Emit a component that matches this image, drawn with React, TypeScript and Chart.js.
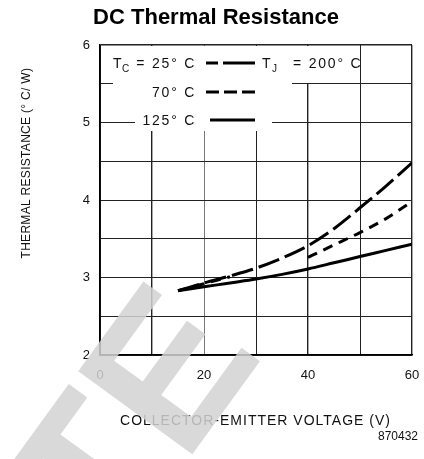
import React, { useEffect, useRef } from "react";
import { Chart, registerables } from "chart.js";

Chart.register(...registerables);

// ---- data ----
const voltage = [15, 20, 25, 30, 35, 40, 45, 50, 55, 60];
const r25 = [2.83, 2.93, 3.02, 3.12, 3.25, 3.41, 3.63, 3.9, 4.18, 4.48];
const r70 = [2.83, 2.92, 3.01, null, null, 3.26, 3.42, 3.58, 3.76, 3.98];
const r125 = [2.83, 2.88, 2.93, 2.98, 3.04, 3.11, 3.19, 3.27, 3.35, 3.43];
const seriesLabels = ["25° C", "70° C", "125° C"];
const xTickLabels = ["0", "20", "40", "60"];
const yTickLabels = ["2", "3", "4", "5", "6"];
const titleText = "DC Thermal Resistance";
const xTitle = "COLLECTOR-EMITTER VOLTAGE (V)";
const yTitle = "THERMAL RESISTANCE (° C/ W)";
const figNumber = "870432";
const watermark = "OBSOLETE";

const FONT = '"Liberation Sans", Arial, sans-serif';

function txt(ctx: CanvasRenderingContext2D, s: string, x: number, y: number, font: string, align: CanvasTextAlign = "left", spacing = 0, color = "#111") {
  ctx.save();
  ctx.font = font;
  (ctx as any).letterSpacing = spacing + "px";
  ctx.fillStyle = color;
  ctx.textAlign = align;
  ctx.textBaseline = "alphabetic";
  const dx = align === "right" ? -spacing : align === "center" ? -spacing / 2 : 0;
  ctx.fillText(s, x + dx, y);
  ctx.restore();
}

const decoPlugin = {
  id: "deco",
  beforeDatasetsDraw(chart: any) {
    const ctx = chart.ctx as CanvasRenderingContext2D;
    const { left, top } = chart.chartArea;
    ctx.save();
    ctx.fillStyle = "#fff";
    // masks behind the in-plot legend
    ctx.fillRect(left + 13, top + 1, 179, 42);
    ctx.fillRect(left + 192, top + 1, 60, 37);
    ctx.fillRect(left + 35, top + 43, 137, 43);
    ctx.restore();
  },
  afterDatasetsDraw(chart: any) {
    const ctx = chart.ctx as CanvasRenderingContext2D;
    const f14 = `14px ${FONT}`;
    const f10 = `10px ${FONT}`;
    // row 1
    txt(ctx, "T", 113, 68, f14);
    txt(ctx, "C", 122, 72, f10);
    txt(ctx, "= " + seriesLabels[0], 198, 68, f14, "right", 1.8);
    txt(ctx, "T", 262, 68, f14);
    txt(ctx, "J", 272, 72, f10);
    txt(ctx, "= 200° C", 293, 68, f14, "left", 1.8);
    txt(ctx, seriesLabels[1], 198, 97, f14, "right", 1.8);
    txt(ctx, seriesLabels[2], 198, 125, f14, "right", 1.8);
    ctx.save();
    ctx.strokeStyle = "#000";
    ctx.lineWidth = 3;
    ctx.setLineDash([12, 5, 40]);
    ctx.beginPath(); ctx.moveTo(206, 63); ctx.lineTo(255, 63); ctx.stroke();
    ctx.setLineDash([13, 5]);
    ctx.beginPath(); ctx.moveTo(206, 92); ctx.lineTo(255, 92); ctx.stroke();
    ctx.setLineDash([]);
    ctx.beginPath(); ctx.moveTo(210, 120); ctx.lineTo(255, 120); ctx.stroke();
    ctx.restore();
  },
  afterDraw(chart: any) {
    const ctx = chart.ctx as CanvasRenderingContext2D;
    txt(ctx, titleText, 216, 24, `bold 22px ${FONT}`, "center", 0, "#000");
    txt(ctx, xTitle, 256, 425, `14px ${FONT}`, "center", 1);
    txt(ctx, figNumber, 418, 440, `12px ${FONT}`, "right", 0);
    ctx.save();
    ctx.translate(25, 163);
    ctx.rotate(-Math.PI / 2);
    txt(ctx, yTitle, 0, 5, `12px ${FONT}`, "center", 0.3);
    ctx.restore();
    // watermark
    ctx.save();
    ctx.translate(193, 453);
    ctx.rotate((-54 * Math.PI) / 180);
    ctx.font = `bold 205px ${FONT}`;
    ctx.fillStyle = "rgba(210,210,210,0.85)";
    ctx.textBaseline = "alphabetic";
    ctx.textAlign = "left";
    const w = ctx.measureText(watermark.slice(0, -1)).width;
    ctx.fillText(watermark, -15 - w, 0);
    ctx.restore();
  },
};

export default function App() {
  const ref = useRef<HTMLCanvasElement | null>(null);
  useEffect(() => {
    if (!ref.current) return;
    const mk = (arr: (number | null)[]) => voltage.map((v, i) => ({ x: v, y: arr[i] }));
    const chart = new Chart(ref.current, {
      type: "line",
      data: {
        datasets: [
          { label: seriesLabels[2], data: mk(r125) as any, borderColor: "#000", borderWidth: 3, pointRadius: 0, tension: 0.4, cubicInterpolationMode: "monotone", fill: false },
          { label: seriesLabels[1], data: mk(r70) as any, borderColor: "#000", borderWidth: 3, borderDash: [10, 7], pointRadius: 0, tension: 0.4, cubicInterpolationMode: "monotone", fill: false, spanGaps: false },
          { label: seriesLabels[0], data: mk(r25) as any, borderColor: "#000", borderWidth: 3, borderDash: [22, 6], pointRadius: 0, tension: 0.4, cubicInterpolationMode: "monotone", fill: false },
        ],
      },
      options: {
        animation: false,
        responsive: false,
        devicePixelRatio: 1,
        layout: { padding: { top: 45, right: 12, left: 0, bottom: 0 } },
        plugins: { legend: { display: false }, tooltip: { enabled: false }, title: { display: false } },
        scales: {
          x: {
            type: "linear",
            min: 0,
            max: 60,
            afterFit: (s: any) => { s.height = 104; s.paddingLeft = 0; s.paddingRight = 0; },
            ticks: {
              stepSize: 10,
              autoSkip: false,
              maxRotation: 0,
              padding: 13,
              color: "#111",
              font: { family: FONT, size: 13 },
              callback: (v: any) => (xTickLabels.includes(String(v)) ? String(v) : ""),
            },
            grid: {
              color: (c: any) => (c.tick && c.tick.value === 20 ? "#777" : "#222"),
              lineWidth: (c: any) => {
                const v = c.tick ? c.tick.value : -1;
                if (v === 10 || v === 40 || v === 60) return 1.4;
                return 1;
              },
              drawTicks: false,
            },
            border: { color: "#000", width: 1.5 },
          },
          y: {
            type: "linear",
            min: 2,
            max: 6,
            afterFit: (s: any) => { s.width = 100; s.paddingTop = 0; s.paddingBottom = 0; },
            ticks: {
              stepSize: 0.5,
              autoSkip: false,
              padding: 10,
              color: "#111",
              font: { family: FONT, size: 13 },
              callback: (v: any) => (yTickLabels.includes(String(v)) ? String(v) : ""),
            },
            grid: {
              color: "#222",
              lineWidth: (c: any) => (c.tick && c.tick.value === 6 ? 1.5 : 1),
              drawTicks: false,
            },
            border: { color: "#000", width: 1.5 },
          },
        },
      },
      plugins: [decoPlugin],
    } as any);
    return () => chart.destroy();
  }, []);
  return (
    <div style={{ position: "absolute", left: 0, top: 0, width: 424, height: 459, background: "#fff" }}>
      <canvas ref={ref} width={424} height={459} style={{ display: "block" }} />
    </div>
  );
}
